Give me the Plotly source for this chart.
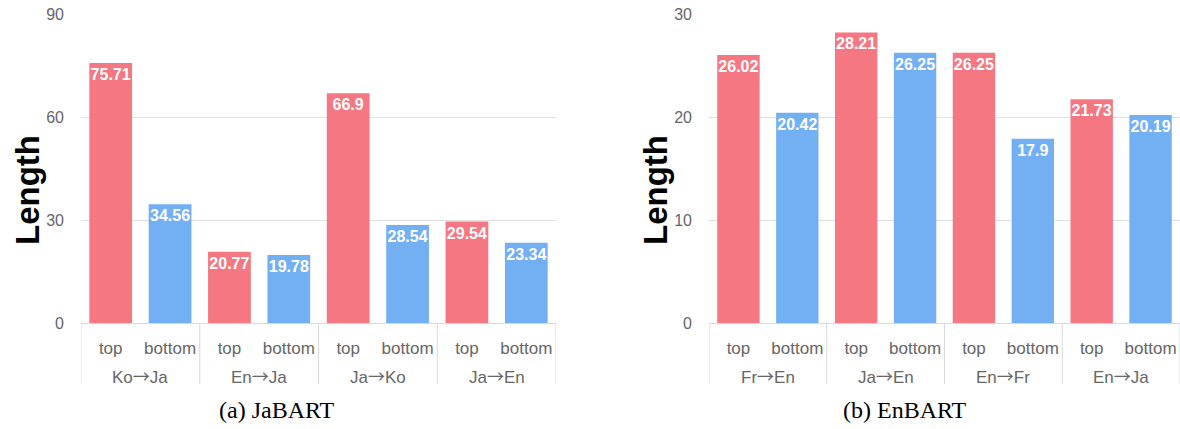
import plotly.graph_objects as go

W, H = 1180, 429

# ---- data ----
left_groups = ["Ko→Ja", "En→Ja", "Ja→Ko", "Ja→En"]
right_groups = ["Fr→En", "Ja→En", "En→Fr", "En→Ja"]
kinds = ["top", "bottom"]
left_values = [75.71, 34.56, 20.77, 19.78, 66.9, 28.54, 29.54, 23.34]
right_values = [26.02, 20.42, 28.21, 26.25, 26.25, 17.9, 21.73, 20.19]
left_ticks = [0, 30, 60, 90]
right_ticks = [0, 10, 20, 30]
captions = ["(a) JaBART", "(b) EnBART"]

RED = "#F47782"
BLUE = "#73B0F3"

def px_x(p):
    return p / W

def px_y(p):
    return 1 - p / H

FONT = "Liberation Sans, Arial, sans-serif"
axfont = dict(family=FONT, size=16, color="#666666")
catfont = dict(family=FONT, size=17, color="#666666")
LINE = "#D9D9D9"

def arrowize(s):
    return s.replace("→", '<span style="font-family:Noto Sans CJK JP">→</span>')

fig = go.Figure()
ann = []
shapes = []

panels = [
    (left_groups, left_values, left_ticks, "x", "y", [px_x(81), px_x(556)], 90),
    (right_groups, right_values, right_ticks, "x2", "y2", [px_x(709), 1.0], 30),
]
ydom = [px_y(323), px_y(14)]

for groups, values, ticks, xa, ya, dom, ymax in panels:
    n = len(values)
    pos = list(range(n))
    labels = [kinds[i % 2] for i in range(n)]
    colors = [RED if k == "top" else BLUE for k in labels]
    fig.add_trace(go.Bar(
        x=pos, y=values, marker=dict(color=colors, line=dict(width=0)),
        text=[str(v) for v in values], textposition="inside", insidetextanchor="end",
        textangle=0, constraintext="none",
        textfont=dict(family=FONT, size=16, color="white", weight="bold"),
        xaxis=xa, yaxis=ya, showlegend=False, hoverinfo="skip",
    ))
    xk = "xaxis" if xa == "x" else "xaxis2"
    yk = "yaxis" if ya == "y" else "yaxis2"
    fig.update_layout(**{
        xk: dict(domain=dom, anchor=ya, range=[-0.5, n - 0.5], tickmode="array",
                 tickvals=pos, ticktext=labels, tickfont=catfont, ticks="",
                 showline=True, linecolor=LINE, linewidth=1, showgrid=False,
                 zeroline=False, automargin=False, ticklabelstandoff=10),
        yk: dict(domain=ydom, anchor=xa, range=[0, ymax], tickvals=ticks,
                 showgrid=True, gridcolor="#E0E0E0", gridwidth=1, zeroline=False,
                 showline=False, tickfont=axfont, ticks="", ticklabelstandoff=16,
                 automargin=False),
    })
    for gi, g in enumerate(groups):
        ann.append(dict(text=arrowize(g), x=2 * gi + 0.5, xref=xa, y=px_y(375), yref="paper",
                        showarrow=False, xanchor="center", yanchor="middle",
                        font=catfont))
    for d in range(len(groups) + 1):
        shapes.append(dict(type="line", xref=xa, yref="paper", x0=2 * d - 0.5, x1=2 * d - 0.5,
                           y0=px_y(323), y1=px_y(384), line=dict(color=LINE, width=1)))

for cx in (27, 655):
    ann.append(dict(text="<b>Length</b>", x=px_x(cx), y=px_y(190), xref="paper", yref="paper",
                    textangle=-90, showarrow=False, xanchor="center", yanchor="middle",
                    font=dict(family=FONT, size=33, color="black")))
for cx, cap in zip((277, 905), captions):
    ann.append(dict(text=cap, x=px_x(cx), y=px_y(410), xref="paper", yref="paper",
                    showarrow=False, xanchor="center", yanchor="middle",
                    font=dict(family="Liberation Serif, Times New Roman, serif", size=24, color="black")))

fig.update_layout(
    width=W, height=H, margin=dict(l=0, r=0, t=0, b=0),
    paper_bgcolor="white", plot_bgcolor="white", bargap=0.28,
    annotations=ann, shapes=shapes,
)

fig.write_html("out.html")
